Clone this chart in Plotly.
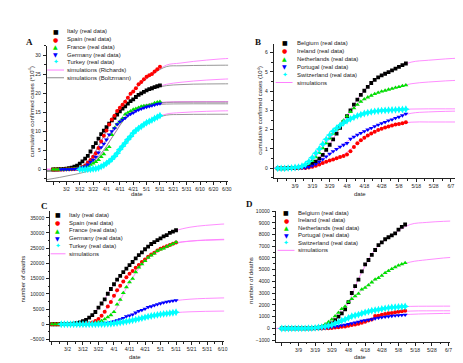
import plotly.graph_objects as go
import pandas as pd

W, H = 463, 363
FONT = "Liberation Sans, Arial, sans-serif"

# ---------------- data ----------------
DATES_AC = pd.date_range("2020-02-21", "2020-05-11", freq="2D")   # 41 dates
DATES_BD = pd.date_range("2020-02-28", "2020-05-12", freq="2D")   # 38 dates
SIM_A_DATES = pd.date_range("2020-02-16", "2020-07-05", freq="10D")
SIM_B_DATES = pd.date_range("2020-02-25", "2020-06-14", freq="10D")
SIM_C_DATES = pd.date_range("2020-02-20", "2020-06-19", freq="10D")
SIM_D_DATES = pd.date_range("2020-02-25", "2020-06-14", freq="10D")

COUNTRIES_AC = ["Italy", "Spain", "France", "Germany", "Turkey"]
COUNTRIES_BD = ["Belgium", "Ireland", "Netherlands", "Portugal", "Switzerland"]

# Panel A: cumulative confirmed cases (x10^4)
A_ITALY = [0.0, 0.02, 0.03, 0.07, 0.11, 0.2, 0.31, 0.46, 0.74, 1.01, 1.51, 2.12, 2.8, 3.57, 4.7,
           5.91, 6.92, 8.06, 9.25, 10.17, 11.06, 11.98, 12.89, 13.56, 14.36, 15.23, 15.95, 16.52,
           17.24, 17.9, 18.4, 19.0, 19.54, 19.94, 20.36, 20.74, 21.07, 21.3, 21.59, 21.83, 22.05]
A_SPAIN = [0, 0, 0, 0, 0, 0.01, 0.02, 0.04, 0.07, 0.17, 0.31, 0.64, 0.99, 1.8, 2.49, 3.31, 4.21,
           5.62, 7.32, 8.8, 10.21, 11.77, 13.08, 14.05, 15.32, 16.19, 16.95, 17.76, 18.81, 19.87,
           20.42, 21.3, 22.38, 22.94, 23.69, 24.3, 24.71, 25.06, 25.69, 26.28, 26.95]
A_FRANCE = [0, 0, 0, 0, 0.01, 0.02, 0.03, 0.07, 0.11, 0.18, 0.29, 0.45, 0.66, 0.9, 1.26, 1.6, 1.99,
            2.52, 3.3, 4.02, 5.21, 5.91, 9.08, 10.91, 11.88, 12.59, 13.37, 14.46, 14.91, 15.3,
            15.71, 15.93, 16.22, 16.51, 16.64, 16.73, 16.85, 17.06, 17.42, 17.62, 17.8]
A_GERMANY = [None, None, None, 0, 0.01, 0.02, 0.03, 0.07, 0.1, 0.15, 0.27, 0.46, 0.73, 1.23, 1.98,
             2.49, 3.3, 4.39, 5.77, 6.69, 7.79, 9.12, 10.01, 10.77, 11.82, 12.49, 13.01, 13.48,
             14.14, 14.52, 14.83, 15.31, 15.65, 15.88, 16.15, 16.39, 16.57, 16.73, 16.94, 17.13, 17.28]
A_TURKEY = [None, None, None, None, None, None, None, None, None, None,
            0, 0, 0, 0.01, 0.04, 0.12, 0.19, 0.36, 0.74, 1.08, 1.57, 2.09, 2.71, 3.41, 4.23, 5.22,
            6.1, 6.94, 7.85, 8.63, 9.56, 10.18, 10.78, 11.23, 11.76, 12.24, 12.6, 12.95, 13.37,
            13.71, 14.1]
A_RICH = [
    [0.0, 0.1, 0.6, 3.0, 8.4, 13.3, 16.9, 19.6, 21.3, 22.35, 22.85, 23.2, 23.45, 23.65, 23.8],
    [0.0, 0.0, 0.1, 1.3, 6.5, 13.5, 18.3, 22.4, 25.1, 27.4, 27.9, 28.35, 28.7, 29.0, 29.2],
    [0.0, 0.0, 0.05, 0.6, 3.5, 8.9, 14.0, 16.4, 17.4, 17.7, 17.75, 17.77, 17.78, 17.78, 17.78],
    [0.0, 0.0, 0.1, 1.1, 5.0, 10.4, 13.9, 15.8, 16.9, 17.5, 17.7, 17.75, 17.77, 17.78, 17.78],
    [0.0, 0.0, 0.0, 0.05, 0.6, 3.0, 7.4, 11.0, 13.2, 14.55, 14.9, 15.1, 15.25, 15.35, 15.4],
]
A_BOLTZ = [
    [-0.5, -0.2, 0.7, 3.3, 8.5, 13.4, 17.0, 19.6, 21.2, 22.0, 22.25, 22.38, 22.43, 22.46, 22.48],
    [-0.3, -0.2, 0.0, 1.5, 6.8, 13.8, 18.6, 22.3, 25.1, 27.0, 27.2, 27.28, 27.32, 27.35, 27.36],
    [-0.4, -0.3, 0.0, 0.9, 3.8, 8.8, 13.8, 16.3, 17.3, 17.6, 17.65, 17.66, 17.66, 17.66, 17.66],
    [-0.5, -0.4, -0.1, 1.2, 5.2, 10.6, 14.1, 16.0, 16.9, 17.15, 17.2, 17.22, 17.22, 17.22, 17.22],
    [-2.7, -2.1, -1.4, -0.6, 0.8, 3.4, 7.4, 10.9, 13.1, 14.25, 14.4, 14.45, 14.47, 14.48, 14.48],
]

# Panel B: cumulative confirmed cases (x10^4)
B_BELGIUM = [0, 0, 0, 0.01, 0.02, 0.02, 0.03, 0.06, 0.09, 0.15, 0.24, 0.35, 0.5, 0.7, 0.95, 1.22,
             1.5, 1.8, 2.1, 2.4, 2.7, 3.0, 3.3, 3.56, 3.8, 4.02, 4.22, 4.42, 4.58, 4.71, 4.82, 4.9,
             4.98, 5.07, 5.17, 5.26, 5.35, 5.43]
B_IRELAND = [None, 0, 0, 0, 0, 0, 0, 0.01, 0.02, 0.04, 0.08, 0.13, 0.2, 0.27, 0.34, 0.4, 0.46, 0.52,
             0.58, 0.64, 0.72, 0.88, 1.1, 1.3, 1.45, 1.58, 1.7, 1.8, 1.9, 1.98, 2.05, 2.11, 2.17,
             2.22, 2.27, 2.3, 2.34, 2.38]
B_NETHERLANDS = [0, 0, 0, 0.01, 0.02, 0.03, 0.05, 0.08, 0.14, 0.25, 0.4, 0.58, 0.8, 1.05, 1.3, 1.55,
                 1.8, 2.02, 2.25, 2.48, 2.7, 2.92, 3.12, 3.3, 3.45, 3.58, 3.68, 3.77, 3.85, 3.92,
                 3.98, 4.03, 4.08, 4.13, 4.18, 4.22, 4.27, 4.31]
B_PORTUGAL = [None, None, 0, 0, 0, 0, 0.01, 0.01, 0.03, 0.06, 0.13, 0.22, 0.34, 0.47, 0.61, 0.75,
              0.88, 1.0, 1.11, 1.21, 1.3, 1.52, 1.63, 1.73, 1.83, 1.92, 2.0, 2.08, 2.17, 2.25,
              2.33, 2.4, 2.47, 2.53, 2.6, 2.66, 2.74, 2.82]
B_SWITZERLAND = [0, 0, 0, 0.01, 0.02, 0.04, 0.06, 0.11, 0.2, 0.35, 0.55, 0.78, 1.0, 1.25, 1.5, 1.72,
                 1.92, 2.08, 2.22, 2.35, 2.46, 2.56, 2.64, 2.72, 2.78, 2.84, 2.88, 2.92, 2.95,
                 2.97, 2.99, 3.0, 3.01, 3.02, 3.03, 3.04, 3.05, 3.06]
B_SIM = [
    [0.0, 0.01, 0.12, 0.85, 2.3, 3.7, 4.65, 5.13, 5.5, 5.6, 5.67, 5.72],
    [0.0, 0.0, 0.03, 0.28, 0.65, 1.35, 1.95, 2.25, 2.39, 2.4, 2.4, 2.4],
    [0.0, 0.02, 0.2, 1.18, 2.36, 3.38, 3.88, 4.16, 4.38, 4.47, 4.53, 4.57],
    [0.0, 0.0, 0.05, 0.58, 1.2, 1.8, 2.22, 2.57, 2.85, 2.92, 2.95, 2.97],
    [0.0, 0.02, 0.28, 1.38, 2.28, 2.75, 2.95, 3.03, 3.07, 3.08, 3.08, 3.08],
]

# Panel C: number of deaths
C_ITALY = [1, 3, 10, 17, 29, 52, 107, 197, 366, 631, 1016, 1441, 2158, 2978, 4032, 5476, 6820, 8165,
           10023, 11591, 13155, 14681, 15887, 17127, 18279, 19468, 20465, 21645, 22745, 23660,
           24648, 25549, 26384, 26977, 27682, 28236, 28884, 29315, 30050, 30450, 30900]
C_SPAIN = [0, 0, 0, 0, 0, 0, 1, 3, 17, 35, 86, 191, 342, 623, 1043, 1772, 2808, 4145, 5812, 7340,
           9387, 11198, 12641, 14045, 15447, 16606, 17489, 18579, 19478, 20453, 21282, 22157,
           22902, 23521, 24275, 24824, 25264, 25613, 26070, 26478, 26900]
C_FRANCE = [1, 1, 2, 2, 2, 3, 4, 9, 19, 33, 61, 91, 148, 244, 450, 674, 1100, 1698, 2317, 3024, 4032,
            6520, 8078, 10328, 12210, 13832, 14986, 17167, 18681, 19718, 20796, 21856, 22614,
            23293, 24087, 24594, 24895, 25531, 25990, 26400, 27000]
C_GERMANY = [None, None, None, 0, 0, 0, 0, 0, 0, 2, 6, 9, 17, 28, 67, 94, 157, 267, 433, 645, 931,
             1275, 1584, 2016, 2607, 2871, 3194, 3804, 4352, 4642, 5100, 5650, 5850, 6220, 6570,
             6850, 7110, 7380, 7520, 7690, 7850]
C_TURKEY = [None, None, None, 0, 0, 0, 0, 0, 0, 0, 0, 0, 0, 2, 9, 30, 44, 75, 108, 168, 277, 425,
            574, 725, 908, 1101, 1296, 1518, 1769, 2017, 2259, 2491, 2706, 2900, 3081, 3258, 3397,
            3520, 3641, 3800, 3950]
C_SIM = [
    [0, 40, 820, 4700, 12300, 18900, 24150, 27950, 30600, 31900, 32500, 32900, 33100],
    [0, 0, 60, 1400, 8350, 16000, 20900, 24550, 26650, 27350, 27700, 27900, 28000],
    [0, 0, 50, 560, 3600, 12800, 20200, 24300, 26500, 27300, 27600, 27750, 27850],
    [0, 0, 0, 80, 790, 2750, 4850, 6600, 7700, 8250, 8500, 8650, 8700],
    [0, 0, 0, 15, 220, 1000, 2140, 3170, 3800, 4100, 4250, 4330, 4380],
]

# Panel D: number of deaths
D_BELGIUM = [0, 0, 0, 0, 0, 0, 3, 3, 4, 14, 21, 67, 88, 178, 289, 431, 705, 1011, 1283, 1632, 2240,
             3019, 3600, 4157, 4857, 5453, 5828, 6262, 6679, 7094, 7331, 7594, 7765, 7924, 8100,
             8415, 8650, 8850]
D_IRELAND = [None, 0, 0, 0, 0, 0, 1, 1, 2, 2, 3, 4, 6, 9, 19, 46, 71, 98, 137, 174, 235, 288, 334,
             406, 486, 571, 687, 769, 1063, 1087, 1159, 1232, 1303, 1319, 1375, 1429, 1458, 1497]
D_NETHERLANDS = [0, 0, 0, 0, 1, 3, 5, 10, 20, 43, 76, 136, 213, 356, 546, 771, 1040, 1341, 1656,
                 1874, 2255, 2520, 2747, 2955, 3321, 3471, 3691, 3929, 4182, 4302, 4487, 4727,
                 4893, 5062, 5222, 5359, 5470, 5580]
D_PORTUGAL = [None, None, 0, 0, 0, 0, 0, 0, 0, 1, 3, 12, 23, 43, 76, 119, 160, 209, 266, 311, 380,
              435, 504, 567, 657, 687, 735, 785, 854, 903, 948, 989, 1023, 1063, 1089, 1114, 1135,
              1160]
D_SWITZERLAND = [0, 0, 0, 1, 1, 2, 4, 11, 14, 27, 43, 80, 120, 161, 234, 300, 433, 536, 666, 765,
                 895, 1036, 1106, 1174, 1281, 1368, 1429, 1509, 1549, 1599, 1665, 1716, 1754, 1784,
                 1805, 1830, 1845, 1870]
D_SIM = [
    [0, 0, 10, 230, 1450, 4500, 6900, 8000, 8850, 9030, 9120, 9170],
    [0, 0, 2, 15, 155, 450, 1000, 1340, 1480, 1500, 1505, 1505],
    [0, 0, 30, 450, 1760, 3140, 4240, 5140, 5650, 5850, 6000, 6100],
    [0, 0, 0, 60, 290, 610, 880, 1075, 1200, 1250, 1280, 1300],
    [0, 1, 20, 200, 715, 1230, 1575, 1795, 1880, 1895, 1900, 1900],
]

TICKS_A = pd.date_range("2020-02-21", "2020-06-30", freq="10D")
LABELS_A = ["", "3/2", "3/12", "3/22", "4/1", "4/11", "4/21", "5/1", "5/11", "5/21", "5/31",
            "6/10", "6/20", "6/30"]
TICKS_B = pd.date_range("2020-02-28", "2020-06-07", freq="10D")
LABELS_B = ["", "3/9", "3/19", "3/29", "4/8", "4/18", "4/28", "5/8", "5/18", "5/28", "6/7"]
TICKS_C = pd.date_range("2020-02-21", "2020-06-10", freq="10D")
LABELS_C = ["", "3/2", "3/12", "3/22", "4/1", "4/11", "4/21", "5/1", "5/11", "5/21", "5/31",
            "6/10"]

# ---------------- styles ----------------
COLORS = ["#000000", "#ff0000", "#00e000", "#0000ff", "#00ffff"]
SYMBOLS = ["square", "circle", "triangle-up", "triangle-down", "star-diamond"]
SIZES = [3.8, 4.0, 4.4, 4.4, 5.6]
GLYPHS = ["\u25a0", "\u25cf", "\u25b2", "\u25bc", "\u2726"]
PINK = "#ff80ff"
GRAY = "#8c8c8c"


def px(x):
    return x / W


def py(y):
    return 1 - y / H


fig = go.Figure()


def add_sim(xa, ya, dates, vals, color):
    fig.add_trace(go.Scatter(x=dates, y=vals, mode="lines", xaxis=xa, yaxis=ya,
                             line=dict(color=color, width=0.9, shape="spline", smoothing=1.0),
                             showlegend=False, hoverinfo="skip"))


def add_data(xa, ya, dates, vals, i):
    fig.add_trace(go.Scatter(x=dates, y=vals, mode="markers", xaxis=xa, yaxis=ya,
                             marker=dict(color=COLORS[i], symbol=SYMBOLS[i], size=SIZES[i],
                                         line=dict(width=0)),
                             showlegend=False, hoverinfo="skip"))


# Panel A
for s in A_RICH:
    add_sim("x", "y", SIM_A_DATES, s, PINK)
for s in A_BOLTZ:
    add_sim("x", "y", SIM_A_DATES, s, GRAY)
for i, s in enumerate([A_ITALY, A_SPAIN, A_FRANCE, A_GERMANY, A_TURKEY]):
    add_data("x", "y", DATES_AC, s, i)

# Panel B
for s in B_SIM:
    add_sim("x2", "y2", SIM_B_DATES, s, PINK)
for i, s in enumerate([B_BELGIUM, B_IRELAND, B_NETHERLANDS, B_PORTUGAL, B_SWITZERLAND]):
    add_data("x2", "y2", DATES_BD, s, i)

# Panel C
for s in C_SIM:
    add_sim("x3", "y3", SIM_C_DATES, s, PINK)
for i, s in enumerate([C_ITALY, C_SPAIN, C_FRANCE, C_GERMANY, C_TURKEY]):
    add_data("x3", "y3", DATES_AC, s, i)

# Panel D
for s in D_SIM:
    add_sim("x4", "y4", SIM_D_DATES, s, PINK)
for i, s in enumerate([D_BELGIUM, D_IRELAND, D_NETHERLANDS, D_PORTUGAL, D_SWITZERLAND]):
    add_data("x4", "y4", DATES_BD, s, i)

AX = "#222222"


def xaxis(dom, rng, tv, tt, tick0, anchor):
    return dict(domain=[px(dom[0]), px(dom[1])], range=rng, type="date", anchor=anchor,
                tickmode="array", tickvals=tv, ticktext=tt, ticks="outside", ticklen=3,
                tickwidth=0.7, tickcolor=AX, showline=True, linecolor=AX, linewidth=0.8,
                showgrid=False, zeroline=False,
                tickfont=dict(size=5, family=FONT, color="#222"), ticklabelstandoff=0,
                minor=dict(tickmode="linear", tick0=tick0, dtick=5 * 86400000, ticks="outside",
                           ticklen=1.6, tickwidth=0.6, tickcolor=AX, showgrid=False))


def yaxis(dom, rng, dtick, anchor, fmt=None):
    d = dict(domain=[py(dom[1]), py(dom[0])], range=rng, anchor=anchor, tickmode="linear",
             tick0=0, dtick=dtick, ticks="outside", ticklen=3, tickwidth=0.7, tickcolor=AX,
             showline=True, linecolor=AX, linewidth=0.8, showgrid=False, zeroline=False,
             tickfont=dict(size=5, family=FONT, color="#222"), ticklabelstandoff=1,
             minor=dict(tickmode="linear", tick0=0, dtick=dtick / 2, ticks="outside",
                        ticklen=1.6, tickwidth=0.6, tickcolor=AX, showgrid=False))
    if fmt:
        d["tickformat"] = fmt
    return d


annotations = []
shapes = []


def text(x, y, t, size=6, xanchor="center", angle=0, family=FONT, color="#222", bold=False):
    if bold:
        t = "<b>" + t + "</b>"
    annotations.append(dict(x=px(x), y=py(y), xref="paper", yref="paper", text=t,
                            showarrow=False, xanchor=xanchor, yanchor="middle",
                            textangle=angle, font=dict(size=size, family=family, color=color)))


def legend(mx, tx, y0, dy, names, sim_names, line_x, sim_colors):
    for i, n in enumerate(names):
        y = y0 + i * dy
        text(mx, y, GLYPHS[i], size=7 if i == 4 else 6, family="DejaVu Sans", color=COLORS[i])
        text(tx, y, n + " (real data)", size=6, xanchor="left")
    for j, n in enumerate(sim_names):
        y = y0 + (len(names) + j) * dy
        shapes.append(dict(type="line", xref="paper", yref="paper", x0=px(line_x[0]),
                           x1=px(line_x[1]), y0=py(y), y1=py(y),
                           line=dict(color=sim_colors[j], width=1)))
        text(tx, y, n, size=6, xanchor="left")


legend(48, 58, 20.7, 7.8, COUNTRIES_AC, ["simulations (Richards)", "simulations (Boltzmann)"],
       (39.5, 56.5), [PINK, GRAY])
legend(279, 289, 32.3, 8.0, COUNTRIES_BD, ["simulations"], (270, 287), [PINK])
legend(50, 60, 206, 7.9, COUNTRIES_AC, ["simulations"], (43, 58), [PINK])
legend(280.5, 290.5, 204, 7.6, COUNTRIES_BD, ["simulations"], (272, 289), [PINK])

# panel letters
for lab, x, y in [("A", 22, 31), ("B", 252, 31.7), ("C", 36.7, 196.7), ("D", 244, 195)]:
    text(x, y, lab, size=9, family="Liberation Serif, Times New Roman, serif", color="#111",
         bold=True)

# axis titles
text(23.5, 102, "cumulative confirmed cases (*10<sup>4</sup>)", angle=-90)
text(254, 100, "cumulative confirmed cases (10<sup>4</sup>)", angle=-90)
text(15.5, 271, "number of deaths", angle=-90)
text(245, 272, "number of deaths", angle=-90)
text(130, 185.5, "date")
text(355, 185.5, "date")
text(128, 349.5, "date")
text(355, 349.5, "date")

fig.update_layout(
    width=W, height=H, margin=dict(l=0, r=0, t=0, b=0),
    paper_bgcolor="white", plot_bgcolor="white", showlegend=False,
    xaxis=xaxis((39, 222), ["2020-02-16 05:00", "2020-07-01"], TICKS_A, LABELS_A,
                "2020-02-21", "y"),
    yaxis=yaxis((35, 171.7), [-3, 32.5], 5, "x"),
    xaxis2=xaxis((268, 452), ["2020-02-25 16:00", "2020-06-10"], TICKS_B, LABELS_B,
                 "2020-02-28", "y2"),
    yaxis2=yaxis((33, 169), [-0.51, 6.46], 1, "x2"),
    xaxis3=xaxis((42.5, 218), ["2020-02-19 20:00", "2020-06-11"], TICKS_C, LABELS_C,
                 "2020-02-21", "y3"),
    yaxis3=yaxis((202, 334), [-5600, 37300], 5000, "x3", fmt="d"),
    xaxis4=xaxis((270, 446), ["2020-02-24 08:00", "2020-06-08"], TICKS_B, LABELS_B,
                 "2020-02-28", "y4"),
    yaxis4=yaxis((202, 334.3), [-1120, 10020], 1000, "x4", fmt="d"),
    annotations=annotations,
    shapes=shapes,
)

fig.write_html("out.html")
